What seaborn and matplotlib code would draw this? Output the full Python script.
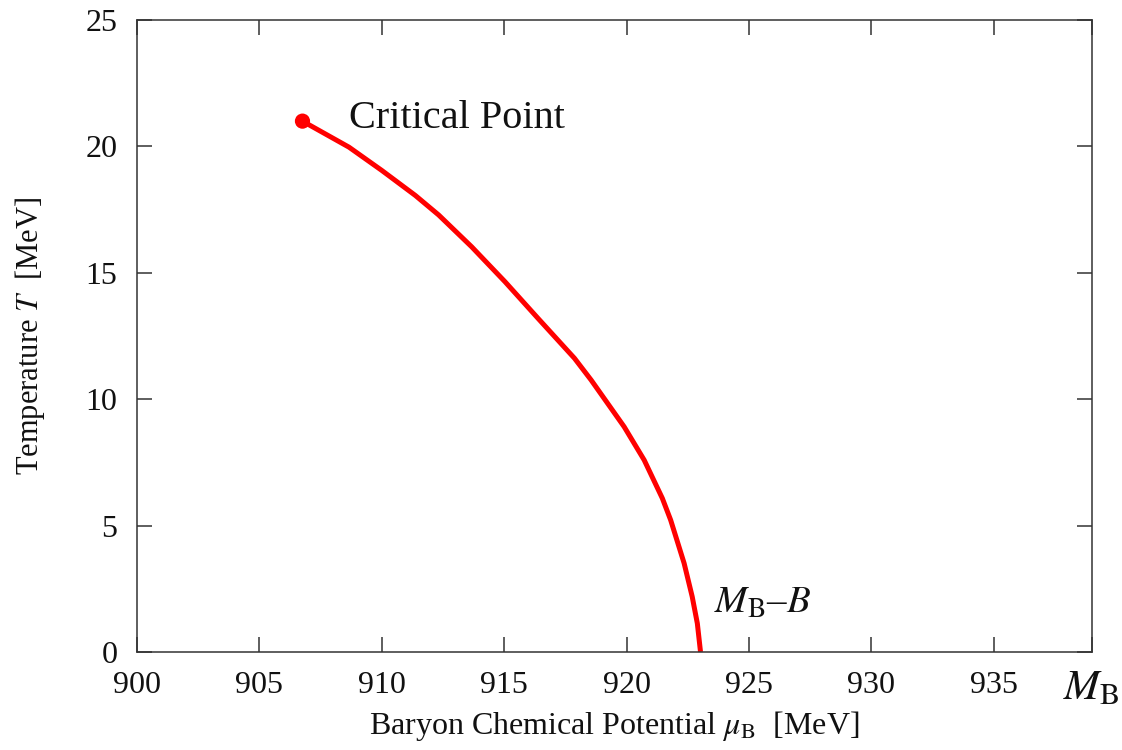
import matplotlib
matplotlib.use("Agg")
import matplotlib.pyplot as plt
import seaborn as sns
import pandas as pd

# Liquid-gas phase boundary in the (mu_B, T) plane
mu_B = [906.76, 908.66, 910.0, 911.37, 912.32, 913.67, 915.03,
        916.38, 917.87, 918.55, 919.9, 920.72, 921.46, 921.8, 922.35,
        922.68, 922.89, 923.02]
temp = [21.0, 19.97, 19.05, 18.06, 17.29, 16.03, 14.65,
        13.2, 11.62, 10.76, 8.91, 7.59, 6.08, 5.22, 3.51,
        2.19, 1.13, 0.0]

critical_mu = [906.76]
critical_T = [21.0]

x_ticks = [900, 905, 910, 915, 920, 925, 930, 935]
y_ticks = [0, 5, 10, 15, 20, 25]
nucleon_mass = 939

sns.set_theme(style="ticks")
plt.rcParams["font.family"] = ["Liberation Serif", "DejaVu Serif"]
plt.rcParams["mathtext.fontset"] = "stix"

fig = plt.figure(figsize=(11.22, 7.5), dpi=100)
ax = fig.add_axes([0.1221, 0.1307, 0.8509, 0.8426])

curve = pd.DataFrame({"mu": mu_B, "T": temp})
sns.lineplot(data=curve, x="mu", y="T", ax=ax, color="#ff0000",
             linewidth=3.6, sort=False, estimator=None,
             solid_joinstyle="round", solid_capstyle="butt")
sns.scatterplot(x=critical_mu, y=critical_T, ax=ax, color="#ff0000",
                s=120, edgecolor="none", zorder=5)

ax.set_xlim(900, 939)
ax.set_ylim(0, 25)
ax.set_xticks(x_ticks + [nucleon_mass])
ax.set_xticklabels([str(v) for v in x_ticks] + [""])
ax.set_yticks(y_ticks)
ax.set_yticklabels([str(v) for v in y_ticks])

ax.tick_params(axis="both", direction="in", length=11, width=1.1,
               color="#333333", labelsize=23, top=True, right=True,
               labelcolor="#111111")
ax.tick_params(axis="x", pad=14)
ax.tick_params(axis="y", pad=14)
for spine in ax.spines.values():
    spine.set_color("#333333")
    spine.set_linewidth(1.1)
    spine.set_visible(True)

# The last x tick marks the nucleon mass M_B
ax.text(nucleon_mass, -1.45, r"$M_\mathrm{B}$", ha="center", va="center",
        fontsize=31, color="#111111")

ax.set_xlabel(r"Baryon Chemical Potential $\mu_\mathrm{B}$  [MeV]",
              fontsize=23, color="#111111", labelpad=6)
ax.set_ylabel(r"Temperature $T$  [MeV]", fontsize=22, color="#111111",
              labelpad=28)

ax.text(908.66, 21.1, "Critical Point", fontsize=29, va="center",
        ha="left", color="#111111")
ax.text(923.58, 1.94, r"$M_\mathrm{B}$–$B$", fontsize=28, va="center",
        ha="left", color="#111111")

fig.savefig("out.png", dpi=100, facecolor="white")
